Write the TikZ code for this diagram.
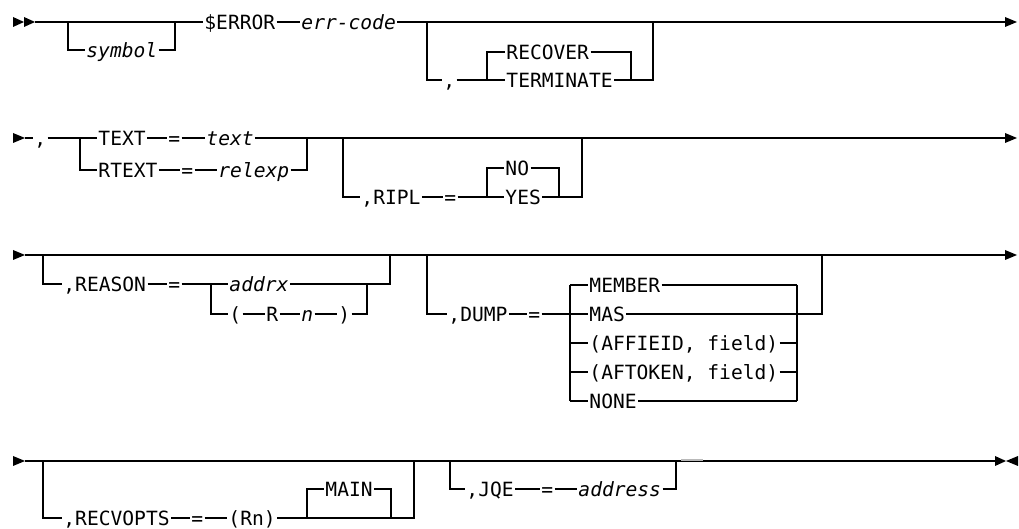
\documentclass[tikz,border=0pt]{standalone}
\usepackage{fontspec}
\setmonofont{DejaVu Sans Mono}
\usetikzlibrary{arrows.meta}

\begin{document}
\begin{tikzpicture}[
  x=0.5pt, y=-0.5pt,
  line width=0.65pt,
  kw/.style={anchor=west, inner sep=0pt, inner xsep=0.4pt,
    text height=7.1pt, text depth=0pt,
    font=\ttfamily\fontsize{9.8}{10}\selectfont},
  var/.style={kw, font=\ttfamily\itshape\fontsize{9.8}{10}\selectfont}
]
\useasboundingbox (0,0) rectangle (1019,529);

% row start and end marks
\fill (13,17) -- (24,22) -- (13,27) -- cycle;
\fill (24,17) -- (35,22) -- (24,27) -- cycle;
\foreach \y in {138,255,461}
  \fill (13,\y-5) -- (25,\y) -- (13,\y+5) -- cycle;
\foreach \y in {22,138,255}
  \fill (1005,\y-5) -- (1017,\y) -- (1005,\y+5) -- cycle;
\fill (995,456) -- (1006,461) -- (995,466) -- cycle;
\fill (1018,456) -- (1006,461) -- (1018,466) -- cycle;

% row 1: symbol, $ERROR, err-code
\coordinate (s1) at (35,22);
\coordinate (e1) at (1005,22);
\node[var] (symbol) at (85,50) {symbol};
\node[kw] (error) at (203,22) {\$ERROR};
\node[var] (errcode) at (300,22) {err-code};
\node[kw] (comma1) at (442,80) {,};
\node[kw] (recover) at (505,52) {RECOVER};
\node[kw] (terminate) at (505,80) {TERMINATE};

\draw (s1) -- (error.west);
\draw (68,22) |- (symbol.west);
\draw (symbol.east) -| (175,22);
\draw (error.east) -- (errcode.west);
\draw (errcode.east) -- (e1);
\draw (427,22) |- (comma1.west);
\draw (comma1.east) -- (terminate.west);
\draw (487,80) |- (recover.west);
\draw (recover.east) -| (631,80);
\draw (terminate.east) -| (653,22);

% row 2: TEXT / RTEXT, RIPL
\coordinate (s2) at (25,138);
\coordinate (e2) at (1005,138);
\node[kw] (comma2) at (33,138) {,};
\node[kw] (textkw) at (97,138) {TEXT};
\node[kw] (eqa) at (167,138) {=};
\node[var] (textvar) at (205,138) {text};
\node[kw] (rtext) at (97,170) {RTEXT};
\node[kw] (eqb) at (180,170) {=};
\node[var] (relexp) at (217,170) {relexp};
\node[kw] (ripl) at (360,197) {,RIPL};
\node[kw] (eqc) at (443,197) {=};
\node[kw] (no) at (504,168) {NO};
\node[kw] (yes) at (504,197) {YES};

\draw (s2) -- (comma2.west);
\draw (comma2.east) -- (textkw.west);
\draw (80,138) |- (rtext.west);
\draw (textkw.east) -- (eqa.west);
\draw (eqa.east) -- (textvar.west);
\draw (textvar.east) -- (e2);
\draw (rtext.east) -- (eqb.west);
\draw (eqb.east) -- (relexp.west);
\draw (relexp.east) -| (307,138);
\draw (343,138) |- (ripl.west);
\draw (ripl.east) -- (eqc.west);
\draw (eqc.east) -- (yes.west);
\draw (487,197) |- (no.west);
\draw (no.east) -| (559,197);
\draw (yes.east) -| (582,138);

% row 3: REASON, DUMP
\coordinate (s3) at (25,255);
\coordinate (e3) at (1005,255);
\draw (s3) -- (e3);
\node[kw] (reason) at (62,284) {,REASON};
\node[kw] (eqd) at (167,284) {=};
\node[var] (addrx) at (228,284) {addrx};
\node[kw] (lpar) at (228,314) {(};
\node[kw] (regr) at (265,314) {R};
\node[var] (regn) at (300,314) {n};
\node[kw] (rpar) at (337,314) {)};

\draw (43,255) |- (reason.west);
\draw (reason.east) -- (eqd.west);
\draw (eqd.east) -- (addrx.west);
\draw (211,284) |- (lpar.west);
\draw (lpar.east) -- (regr.west);
\draw (regr.east) -- (regn.west);
\draw (regn.east) -- (rpar.west);
\draw (rpar.east) -| (367,284);
\draw (addrx.east) -| (390,255);

\node[kw] (dump) at (447,314) {,DUMP};
\node[kw] (eqe) at (527,314) {=};
\foreach \name/\txt [count=\i from 0] in {member/MEMBER, mas/MAS,
    affieid/{(AFFIEID, field)}, aftoken/{(AFTOKEN, field)}, none/NONE}
  \node[kw] (\name) at (588,285+29*\i) {\txt};

\draw (427,255) |- (dump.west);
\draw (dump.east) -- (eqe.west);
\draw (eqe.east) -- (mas.west);
\draw (570,0 |- member.west) -- (570,0 |- none.west);
\draw (797,0 |- member.west) -- (797,0 |- none.west);
\foreach \name in {member,affieid,aftoken,none} {
  \draw (570,0 |- \name.west) -- (\name.west);
  \draw (\name.east) -- (797,0 |- \name.west);
}
\draw (mas.east) -| (822,255);

% row 4: RECVOPTS, JQE
\coordinate (s4) at (25,461);
\coordinate (e4) at (995,461);
\draw (s4) -- (e4);
\node[kw] (recvopts) at (62,518) {,RECVOPTS};
\node[kw] (eqf) at (190,518) {=};
\node[kw] (rn) at (227,518) {(Rn)};
\node[kw] (main) at (324,489) {MAIN};
\node[kw] (jqe) at (465,489) {,JQE};
\node[kw] (eqg) at (540,489) {=};
\node[var] (address) at (577,489) {address};

\draw (43,461) |- (recvopts.west);
\draw (recvopts.east) -- (eqf.west);
\draw (eqf.east) -- (rn.west);
\draw (rn.east) -| (414,461);
\draw (307,518) |- (main.west);
\draw (main.east) -| (391,518);
\draw (450,461) |- (jqe.west);
\draw (jqe.east) -- (eqg.west);
\draw (eqg.east) -- (address.west);
\draw (address.east) -| (676,461);
\draw[gray!55, line width=1pt] (681,460.3) -- (703,460.3);

\end{tikzpicture}
\end{document}
